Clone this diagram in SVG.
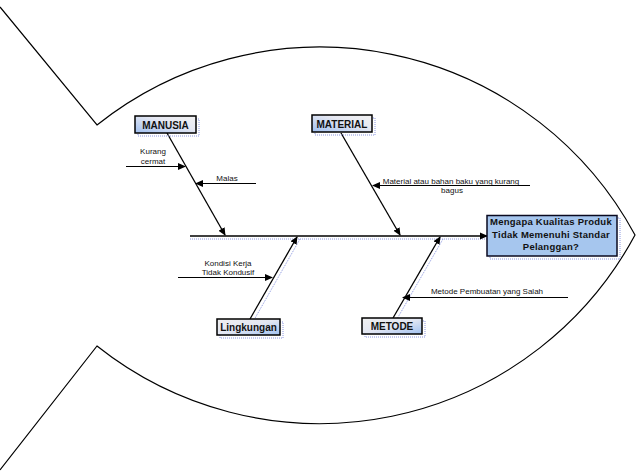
<svg xmlns="http://www.w3.org/2000/svg" width="637" height="475" viewBox="0 0 637 475">
<style>
  .fish{fill:none;stroke:#000;stroke-width:1.2}
  .bone{stroke:#000;stroke-width:1.3;fill:none}
  .sub{stroke:#000;stroke-width:1.2;fill:none}
  .shadow{fill:none;stroke:#8a96e0;stroke-width:1;stroke-dasharray:1 1}
  .box{stroke:#000;stroke-width:1.5}
  .cat{font-family:"Liberation Sans",Arial,sans-serif;font-size:10px;font-weight:bold;fill:#111;text-anchor:middle}
  .lbl{font-family:"Liberation Sans",Arial,sans-serif;font-size:8px;fill:#111;text-anchor:middle}
  .head{font-family:"Liberation Sans",Arial,sans-serif;font-size:9.5px;font-weight:bold;fill:#111;text-anchor:middle;letter-spacing:0.25px}
</style>
<defs>
  <marker id="ah" markerWidth="8" markerHeight="8" refX="7" refY="4" orient="auto" markerUnits="userSpaceOnUse">
    <path d="M0,0.5 L8,4 L0,7.5 Z" fill="#000"/>
  </marker>
  <linearGradient id="gTop" x1="0" y1="1" x2="1" y2="0">
    <stop offset="0" stop-color="#9fbff0"/>
    <stop offset="0.6" stop-color="#e6e8f2"/>
    <stop offset="1" stop-color="#f2f2f2"/>
  </linearGradient>
  <linearGradient id="gBot" x1="0" y1="0" x2="1" y2="1">
    <stop offset="0" stop-color="#f0f0f0"/>
    <stop offset="0.5" stop-color="#e2e6f2"/>
    <stop offset="1" stop-color="#9fc0f0"/>
  </linearGradient>
</defs>

<g id="fish-outline">
  <path class="fish" d="M0,7 L97,125 A358,358 0 0,1 635,235 A358,358 0 0,1 97,346 L0,470"/>
</g>

<g id="connectors">
  <line class="shadow" x1="190" y1="239" x2="487" y2="239"/>
  <line class="shadow" x1="300" y1="239" x2="254" y2="320"/>
  <line class="shadow" x1="443" y1="239" x2="397" y2="319"/>
  <line class="bone" x1="190" y1="236" x2="487" y2="236" marker-end="url(#ah)"/>
  <line class="bone" x1="167" y1="133" x2="225" y2="235" marker-end="url(#ah)"/>
  <line class="bone" x1="341" y1="133" x2="400" y2="235" marker-end="url(#ah)"/>
  <line class="bone" x1="250" y1="319" x2="297" y2="237" marker-end="url(#ah)"/>
  <line class="bone" x1="393" y1="318" x2="440" y2="237" marker-end="url(#ah)"/>
  <line class="sub" x1="126" y1="166.5" x2="185" y2="166.5" marker-end="url(#ah)"/>
  <line class="sub" x1="256" y1="183.5" x2="196" y2="183.5" marker-end="url(#ah)"/>
  <line class="sub" x1="530" y1="185.5" x2="373" y2="185.5" marker-end="url(#ah)"/>
  <line class="sub" x1="178" y1="277.5" x2="272" y2="277.5" marker-end="url(#ah)"/>
  <line class="sub" x1="568" y1="297.5" x2="403" y2="297.5" marker-end="url(#ah)"/>
</g>

<g id="label-kurang-cermat">
  <text class="lbl" x="153" y="154">Kurang</text>
  <text class="lbl" x="153" y="163.5">cermat</text>
</g>
<g id="label-malas">
  <text class="lbl" x="227" y="181">Malas</text>
</g>
<g id="label-material-bahan">
  <text class="lbl" x="451" y="183.5">Material atau bahan baku yang kurang</text>
  <text class="lbl" x="452" y="193">bagus</text>
</g>
<g id="label-kondisi">
  <text class="lbl" x="228" y="265.5">Kondisi Kerja</text>
  <text class="lbl" x="228" y="274.5">Tidak Kondusif</text>
</g>
<g id="label-metode-salah">
  <text class="lbl" x="487" y="294">Metode Pembuatan yang Salah</text>
</g>

<g id="node-manusia">
  <rect class="shadow" x="138" y="119" width="61" height="17"/>
  <rect class="box" x="135" y="116" width="61" height="17" fill="url(#gTop)"/>
  <text class="cat" x="165.5" y="128.5">MANUSIA</text>
</g>
<g id="node-material">
  <rect class="shadow" x="315" y="118" width="60" height="17"/>
  <rect class="box" x="312" y="115" width="60" height="17" fill="url(#gTop)"/>
  <text class="cat" x="342" y="127.5">MATERIAL</text>
</g>
<g id="node-lingkungan">
  <rect class="shadow" x="220" y="322" width="63" height="16"/>
  <rect class="box" x="217" y="319" width="63" height="16" fill="url(#gBot)"/>
  <text class="cat" x="248.5" y="331">Lingkungan</text>
</g>
<g id="node-metode">
  <rect class="shadow" x="365" y="321" width="60" height="16"/>
  <rect class="box" x="362" y="318" width="60" height="16" fill="url(#gBot)"/>
  <text class="cat" x="392" y="330">METODE</text>
</g>
<g id="node-head">
  <rect class="shadow" x="490" y="218" width="130" height="41"/>
  <rect x="487" y="215.5" width="130" height="40.5" fill="#a6c6ee" stroke="#0a0a20" stroke-width="1.5"/>
  <text class="head" x="551" y="225">Mengapa Kualitas Produk</text>
  <text class="head" x="551" y="237.5">Tidak Memenuhi Standar</text>
  <text class="head" x="551" y="250">Pelanggan?</text>
</g>
</svg>
